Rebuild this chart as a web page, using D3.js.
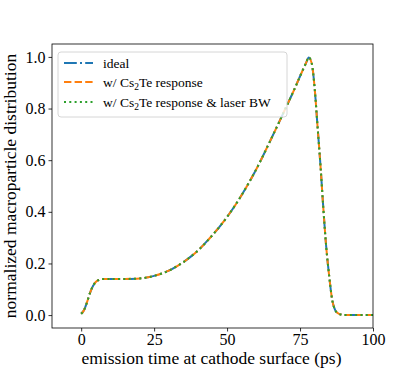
<!DOCTYPE html>
<html><head><meta charset="utf-8">
<script src="https://cdn.jsdelivr.net/npm/d3@7"></script>
<style>body{margin:0;background:#fff}svg{display:block}text{font-family:"Liberation Serif",serif;fill:#000}</style>
</head><body><svg id="c" width="415" height="369"></svg>
<script>
const times = [0,1,2,3,4,5,6,7,8,10,15,20,25,30,35,40,45,50,55,60,65,70,73,75,77,78,79,80,81,82,83,84,85,86,87,88,89,90,95,100];
const ideal = [0.005,0.02,0.05,0.085,0.112,0.128,0.136,0.139,0.14,0.14,0.14,0.142,0.152,0.172,0.205,0.25,0.31,0.38,0.465,0.565,0.68,0.8,0.873,0.925,0.975,0.998,0.975,0.88,0.73,0.58,0.41,0.26,0.15,0.06,0.02,0.007,0.002,0.0,0.0,0.0];
const cs2te = [0.005,0.02,0.05,0.085,0.112,0.128,0.136,0.139,0.14,0.14,0.14,0.142,0.152,0.172,0.205,0.25,0.31,0.38,0.465,0.565,0.68,0.8,0.873,0.925,0.975,0.998,0.975,0.88,0.73,0.58,0.41,0.26,0.15,0.06,0.02,0.007,0.002,0.0,0.0,0.0];
const cs2teBW = [0.005,0.02,0.05,0.085,0.112,0.128,0.136,0.139,0.14,0.14,0.14,0.142,0.152,0.172,0.205,0.25,0.31,0.38,0.465,0.565,0.68,0.8,0.873,0.925,0.975,0.998,0.975,0.88,0.73,0.58,0.41,0.26,0.15,0.06,0.02,0.007,0.002,0.0,0.0,0.0];
const xTicks = [0,25,50,75,100];
const yTicks = [0,0.2,0.4,0.6,0.8,1.0];
const seriesNames = ["ideal","w/ Cs2Te response","w/ Cs2Te response & laser BW"];

const svg = d3.select("#c");
const L=52,R=373,T=44,B=328;
const x = d3.scaleLinear().domain([-10,100]).range([L,R]);
const y = d3.scaleLinear().domain([-0.05,1.05]).range([B,T]);

const series = [
  {name:seriesNames[0], vals:ideal, color:"#1f77b4", dash:"12.8,3.2,2,3.2"},
  {name:seriesNames[1], vals:cs2te, color:"#ff7f0e", dash:"7.4,3.2"},
  {name:seriesNames[2], vals:cs2teBW, color:"#2ca02c", dash:"2,3.3"}
];

const line = d3.line().x(d=>x(d[0])).y(d=>y(d[1])).curve(d3.curveMonotoneX);
series.forEach(s=>{
  svg.append("path").datum(times.map((t,i)=>[t,s.vals[i]]))
    .attr("d",line).attr("fill","none").attr("stroke",s.color)
    .attr("stroke-width",2).attr("stroke-dasharray",s.dash);
});

const xa = svg.append("g").attr("transform",`translate(0,${B})`)
  .call(d3.axisBottom(x).tickValues(xTicks).tickFormat(d=>String(d)).tickSize(3.5).tickPadding(2));
const ya = svg.append("g").attr("transform",`translate(${L},0)`)
  .call(d3.axisLeft(y).tickValues(yTicks).tickFormat(d3.format(".1f")).tickSize(3.5).tickPadding(3));
[xa,ya].forEach(a=>{
  a.select(".domain").remove();
  a.selectAll("line").attr("stroke","#000").attr("stroke-width",0.8);
  a.selectAll("text").style("font-family","Liberation Serif, serif").style("font-size","16px").attr("fill","#000");
});
svg.append("rect").attr("x",L).attr("y",T).attr("width",R-L).attr("height",B-T)
  .attr("fill","none").attr("stroke","#000").attr("stroke-width",0.8);

svg.append("text").attr("x",(L+R)/2-1).attr("y",364).attr("text-anchor","middle")
  .style("font-size","17.5px").text("emission time at cathode surface (ps)");
svg.append("text").attr("transform",`translate(16,${(T+B)/2}) rotate(-90)`).attr("text-anchor","middle")
  .style("font-size","17.5px").text("normalized macroparticle distribution");

const lg = svg.append("g");
lg.append("rect").attr("x",58).attr("y",52).attr("width",229).attr("height",65).attr("rx",3)
  .attr("fill","#fff").attr("fill-opacity",0.8).attr("stroke","#ccc").attr("stroke-width",0.8);
const ly=[63,82,102];
series.forEach((s,i)=>{
  lg.append("line").attr("x1",64).attr("x2",93).attr("y1",ly[i]).attr("y2",ly[i])
    .attr("stroke",s.color).attr("stroke-width",2).attr("stroke-dasharray",s.dash);
  const t = lg.append("text").attr("x",103).attr("y",ly[i]+4.5).style("font-size","13.5px");
  if(i===0){ t.text(s.name); }
  else {
    t.append("tspan").text("w/ Cs");
    t.append("tspan").text("2").style("font-size","9.5px").attr("dy",3);
    t.append("tspan").text(s.name.slice(6)).attr("dy",-3);
  }
});
</script></body></html>
